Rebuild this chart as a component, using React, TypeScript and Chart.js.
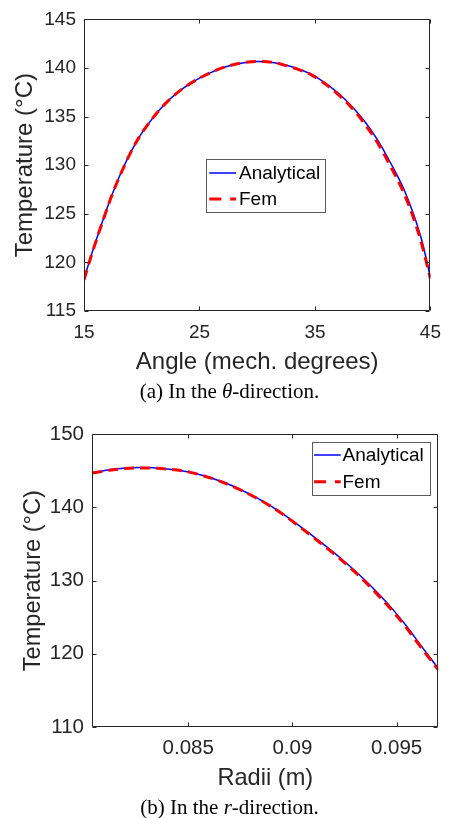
import { useEffect, useRef } from 'react';
import { Chart, registerables } from 'chart.js';

Chart.register(...registerables);

// ---- Panel (a): temperature along the angular direction ----
const angleDeg = [
  15, 15.66, 16.24, 16.8, 17.38, 17.96, 18.52, 19.1, 19.81, 20.54, 21.4, 22.26, 23.4, 24.54, 25.83, 27.2,
  28.6, 30, 31.5, 32.6, 33.54, 34.69, 35.84, 36.98, 38.12, 39.28, 40.42, 41.56, 42.71, 43.57, 44.29, 45,
];
const thetaAnalytical = [
  118.3, 120.85, 122.95, 124.9, 126.8, 128.55, 130.05, 131.45, 132.95, 134.2, 135.5, 136.6, 137.75, 138.65, 139.45, 140.1,
  140.5, 140.68, 140.55, 140.25, 139.9, 139.35, 138.5, 137.45, 136.15, 134.55, 132.6, 130.2, 127.5, 124.85, 122.1, 118.45,
];
const thetaFem = [
  118.2, 120.8, 122.9, 124.85, 126.8, 128.5, 130.0, 131.45, 132.95, 134.2, 135.5, 136.6, 137.75, 138.65, 139.45, 140.1,
  140.5, 140.68, 140.55, 140.2, 139.85, 139.3, 138.4, 137.3, 136.0, 134.3, 132.3, 129.85, 127.1, 124.45, 121.7, 118.3,
];
const angleTicks = [15, 25, 35, 45];
const thetaTempTicks = [115, 120, 125, 130, 135, 140, 145];

// ---- Panel (b): temperature along the radial direction ----
const radiiM = [
  0.0804, 0.0815, 0.0827, 0.084, 0.0851, 0.0867, 0.0883, 0.0894, 0.0904, 0.0913, 0.0923, 0.0934, 0.0942, 0.0949,
  0.0955, 0.0961, 0.097,
];
const radialAnalytical = [
  144.75, 145.25, 145.45, 145.25, 144.8, 143.45, 141.3, 139.4, 137.35, 135.4, 133.1, 130.3, 128.0, 125.8, 123.7,
  121.4, 118.0,
];
const radialFem = [
  144.7, 145.2, 145.4, 145.25, 144.8, 143.4, 141.25, 139.35, 137.25, 135.25, 132.95, 130.1, 127.75, 125.55, 123.45,
  121.15, 117.8,
];
const radiiTicks = [0.085, 0.09, 0.095];
const radialTempTicks = [110, 120, 130, 140, 150];

const SANS = '"Liberation Sans", Arial, Helvetica, sans-serif';
const SERIF = '"Liberation Serif", "Times New Roman", serif';
const INK = '#262626';

// Box around the plot area with inward tick marks on all four sides.
const axesFrame = {
  id: 'axesFrame',
  afterDatasetsDraw(chart: any, _args: any, opts: any) {
    const { ctx, chartArea, scales } = chart;
    const L = Math.round(chartArea.left) + 0.5;
    const R = Math.round(chartArea.right) - 0.5;
    const T = Math.round(chartArea.top) + 0.5;
    const B = Math.round(chartArea.bottom) - 0.5;
    const len = opts.tickLength ?? 4;
    ctx.save();
    ctx.strokeStyle = opts.color ?? INK;
    ctx.lineWidth = 1;
    ctx.beginPath();
    ctx.rect(L, T, R - L, B - T);
    scales.x.ticks.forEach((t: any) => {
      const px = Math.round(scales.x.getPixelForValue(t.value)) + 0.5;
      ctx.moveTo(px, B);
      ctx.lineTo(px, B - len);
      ctx.moveTo(px, T);
      ctx.lineTo(px, T + len);
    });
    scales.y.ticks.forEach((t: any) => {
      const py = Math.round(scales.y.getPixelForValue(t.value)) + 0.5;
      ctx.moveTo(L, py);
      ctx.lineTo(L + len, py);
      ctx.moveTo(R, py);
      ctx.lineTo(R - len, py);
    });
    ctx.stroke();
    ctx.restore();
  },
};

// Legend box drawn inside the plot area.
const insetLegend = {
  id: 'insetLegend',
  afterDraw(chart: any, _args: any, opts: any) {
    const { ctx } = chart;
    const { left, top, width, height, rows, sample, textX, fontSize } = opts;
    ctx.save();
    ctx.fillStyle = '#ffffff';
    ctx.fillRect(left, top, width, height);
    ctx.strokeStyle = '#5c5c5c';
    ctx.lineWidth = 1;
    ctx.strokeRect(left + 0.5, top + 0.5, width, height);
    chart.data.datasets.forEach((ds: any, i: number) => {
      const y = top + rows[i];
      ctx.beginPath();
      ctx.setLineDash(ds.legendDash || []);
      ctx.lineWidth = ds.borderWidth;
      ctx.strokeStyle = ds.borderColor;
      ctx.moveTo(left + sample[0], y);
      ctx.lineTo(left + sample[1], y);
      ctx.stroke();
      ctx.setLineDash([]);
      ctx.fillStyle = '#000000';
      ctx.font = `${fontSize}px ${SANS}`;
      ctx.textBaseline = 'middle';
      ctx.textAlign = 'left';
      ctx.fillText(ds.label, left + textX, y + 1);
    });
    ctx.restore();
  },
};

type PanelSpec = {
  top: number;
  height: number;
  padding: { left: number; right: number; top: number; bottom: number };
  yAxisWidth: number;
  xAxisHeight: number;
  x: number[];
  analytical: number[];
  fem: number[];
  xMin: number;
  xMax: number;
  yMin: number;
  yMax: number;
  xTicks: number[];
  yTicks: number[];
  tickSize: number;
  titleSize: number;
  xTickPad: number;
  yTickPad: number;
  xTitle: string;
  xTitlePad: number;
  yTitlePad: number;
  legend: any;
};

function Panel({ spec }: { spec: PanelSpec }) {
  const ref = useRef<HTMLCanvasElement>(null);

  useEffect(() => {
    const fmt = (v: any) => String(Number(Number(v).toFixed(4)));
    const chart = new Chart(ref.current as HTMLCanvasElement, {
      type: 'line',
      data: {
        datasets: [
          {
            label: 'Analytical',
            data: spec.x.map((x, i) => ({ x, y: spec.analytical[i] })),
            borderColor: '#0000ff',
            borderWidth: 1.5,
            pointRadius: 0,
            cubicInterpolationMode: 'monotone',
            fill: false,
            order: 1,
          } as any,
          {
            label: 'Fem',
            data: spec.x.map((x, i) => ({ x, y: spec.fem[i] })),
            borderColor: '#ff0000',
            borderWidth: 3,
            borderDash: [10, 6],
            legendDash: [12, 9],
            pointRadius: 0,
            cubicInterpolationMode: 'monotone',
            fill: false,
            order: 0,
          } as any,
        ],
      },
      options: {
        responsive: false,
        animation: false,
        events: [],
        layout: { padding: spec.padding },
        scales: {
          x: {
            type: 'linear',
            min: spec.xMin,
            max: spec.xMax,
            afterBuildTicks: (s: any) => {
              s.ticks = spec.xTicks.map((value) => ({ value }));
            },
            afterFit: (s: any) => {
              s.height = spec.xAxisHeight;
            },
            grid: { display: false, drawTicks: false },
            border: { display: false },
            ticks: {
              color: INK,
              font: { family: SANS, size: spec.tickSize },
              padding: spec.xTickPad,
              maxRotation: 0,
              autoSkip: false,
              callback: fmt,
            },
            title: {
              display: true,
              text: spec.xTitle,
              color: INK,
              font: { family: SANS, size: spec.titleSize },
              padding: { top: 0, bottom: spec.xTitlePad },
            },
          },
          y: {
            type: 'linear',
            min: spec.yMin,
            max: spec.yMax,
            afterBuildTicks: (s: any) => {
              s.ticks = spec.yTicks.map((value) => ({ value }));
            },
            afterFit: (s: any) => {
              s.width = spec.yAxisWidth;
            },
            grid: { display: false, drawTicks: false },
            border: { display: false },
            ticks: {
              color: INK,
              font: { family: SANS, size: spec.tickSize },
              padding: spec.yTickPad,
              autoSkip: false,
              callback: fmt,
            },
            title: {
              display: true,
              text: 'Temperature (°C)',
              color: INK,
              font: { family: SANS, size: spec.titleSize },
              padding: { top: spec.yTitlePad, bottom: 0 },
            },
          },
        },
        plugins: {
          legend: { display: false },
          tooltip: { enabled: false },
          axesFrame: { color: INK, tickLength: 4 },
          insetLegend: spec.legend,
        } as any,
      },
      plugins: [axesFrame, insetLegend],
    });
    return () => chart.destroy();
  }, [spec]);

  return (
    <canvas
      ref={ref}
      width={451}
      height={spec.height}
      style={{ position: 'absolute', left: 0, top: spec.top, width: 451, height: spec.height }}
    />
  );
}

const thetaPanel: PanelSpec = {
  top: 0,
  height: 380,
  padding: { left: 0, right: 18, top: 15, bottom: 0 },
  yAxisWidth: 84,
  xAxisHeight: 69,
  x: angleDeg,
  analytical: thetaAnalytical,
  fem: thetaFem,
  xMin: 15,
  xMax: 45,
  yMin: 115,
  yMax: 145,
  xTicks: angleTicks,
  yTicks: thetaTempTicks,
  tickSize: 19,
  titleSize: 24,
  xTickPad: 10,
  yTickPad: 8,
  xTitle: 'Angle (mech. degrees)',
  xTitlePad: 2.9,
  yTitlePad: 10.6,
  legend: { left: 206, top: 159, width: 119, height: 53, rows: [14, 40], sample: [3.3, 30], textX: 33, fontSize: 19 },
};

const radialPanel: PanelSpec = {
  top: 410,
  height: 385,
  padding: { left: 0, right: 12.7, top: 24.3, bottom: 0 },
  yAxisWidth: 92.3,
  xAxisHeight: 68,
  x: radiiM,
  analytical: radialAnalytical,
  fem: radialFem,
  xMin: 0.0804,
  xMax: 0.097,
  yMin: 110,
  yMax: 150,
  xTicks: radiiTicks,
  yTicks: radialTempTicks,
  tickSize: 20.5,
  titleSize: 23.6,
  xTickPad: 9,
  yTickPad: 8.3,
  xTitle: 'Radii (m)',
  xTitlePad: 2.6,
  yTitlePad: 19.2,
  legend: { left: 312, top: 32, width: 118, height: 53, rows: [13, 39.7], sample: [2, 28.7], textX: 30.5, fontSize: 19 },
};

const captionStyle = (centerY: number): any => ({
  position: 'absolute',
  left: 0,
  width: 459,
  top: centerY - 12,
  height: 24,
  lineHeight: '24px',
  textAlign: 'center',
  fontFamily: SERIF,
  fontSize: 21,
  color: '#000',
  whiteSpace: 'nowrap',
});

export default function App() {
  return (
    <div
      style={{
        position: 'fixed',
        left: 0,
        top: 0,
        width: 451,
        height: 818,
        overflow: 'hidden',
        background: '#ffffff',
      }}
    >
      <Panel spec={thetaPanel} />
      <div style={captionStyle(390.7)}>
        (a) In the <i>θ</i>-direction.
      </div>
      <Panel spec={radialPanel} />
      <div style={captionStyle(806.7)}>
        (b) In the <i>r</i>-direction.
      </div>
    </div>
  );
}
